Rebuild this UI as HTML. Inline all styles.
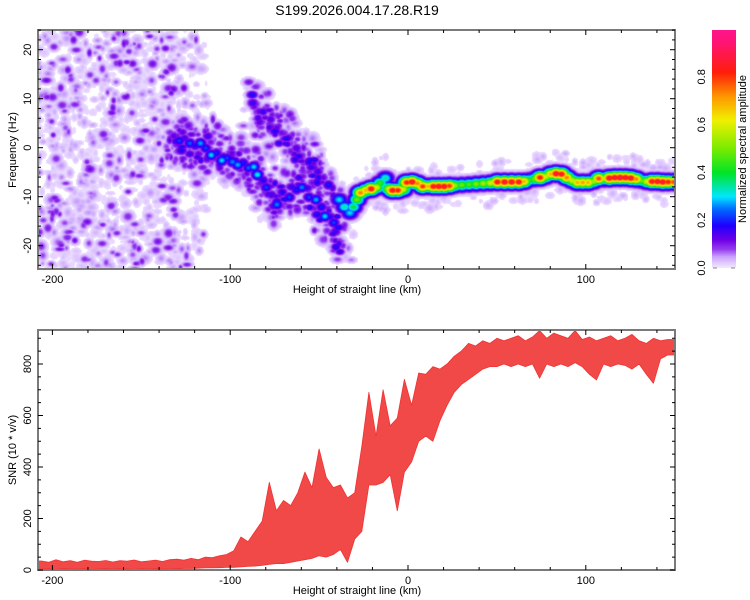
<!DOCTYPE html>
<html><head><meta charset="utf-8">
<style>
html,body{margin:0;padding:0;background:#fff;}
#wrap{position:relative;width:750px;height:600px;overflow:hidden;font-family:"Liberation Sans",sans-serif;}
canvas,svg{position:absolute;}
</style></head>
<body>
<div id="wrap">
<canvas id="heat" width="637" height="239" style="left:38px;top:30px"></canvas>
<canvas id="cbar" width="24" height="238" style="left:712px;top:30px"></canvas>
<svg id="svg" width="750" height="600" style="left:0;top:0"></svg>
</div>
<script>
// ---------- data ----------
const ridgeKm  = [-132,-129,-126,-123,-120,-117,-114,-111,-108,-105,-102,-99,-96,-93,-90,-87,-85,-82,-80,-77,-74,-71,-67,-63,-60,-56,-52,-49,-47,-44,-42,-41,-39,
 -86,-84,-81,-78,-74,-70,-67,-63,-60,-56,-53,-51,-48,-45];
const ridgeHz  = [2.5,1.5,2,1,0.5,1,0,-1.4,-1,-2.5,-2,-2.8,-3.4,-3,-4,-3.8,-5.4,-6.5,-8,-9.5,-11.5,-9,-10,-8.5,-8,-10,-10.5,-12,-13.9,-14,-15.2,-17,-19,
 9,7.5,6.3,5,4.2,3,2.2,0,-1.5,-2.8,-4,-4.8,-6,-7.5];
const ridgeAmp = [0.14,0.22,0.16,0.24,0.18,0.28,0.22,0.3,0.2,0.3,0.22,0.26,0.28,0.2,0.24,0.3,0.32,0.18,0.22,0.16,0.26,0.18,0.22,0.2,0.26,0.22,0.28,0.2,0.3,0.17,0.22,0.16,0.1,
 0.11,0.13,0.11,0.11,0.13,0.11,0.13,0.15,0.11,0.18,0.13,0.16,0.13,0.2];
const bandKm  = [-39,-36,-33,-31,-29,-27,-24,-21,-18,-16,-13,-11,-9,-6,-3,-1,2,5,8,11,14,17,20,23,26,30,34,38,42,46,50,54,58,62,65,68,71,74,77,80,83,86,89,92,95,98,101,104,107,110,113,116,119,122,125,128,131,134,137,140,143,146,149];
const bandHz  = [-10.5,-12,-13.2,-12,-10.5,-9.1,-8.6,-8.3,-8,-7.1,-6.1,-8.3,-8.6,-8.6,-8.4,-7,-6.9,-7.2,-7.8,-7.8,-7.8,-7.8,-7.8,-7.7,-7.6,-7.5,-7.4,-7.3,-7.2,-7.1,-6.9,-6.9,-6.9,-6.9,-6.8,-6.5,-6.3,-6,-5.8,-5.3,-5.2,-5.3,-6,-6.6,-7,-7,-7,-6.8,-6.2,-6.4,-6.1,-6,-6,-6,-6.1,-6.3,-6.6,-6.8,-6.8,-6.8,-6.9,-6.9,-6.9];
const bandAmp = [0.3,0.35,0.3,0.4,0.5,0.75,0.7,0.88,0.6,0.45,0.35,0.6,0.88,0.85,0.6,0.85,0.9,0.75,0.82,0.7,0.88,0.9,0.9,0.82,0.55,0.5,0.48,0.52,0.55,0.6,0.88,0.9,0.9,0.88,0.7,0.45,0.5,0.85,0.6,0.7,0.9,0.88,0.75,0.6,0.7,0.72,0.7,0.55,0.8,0.45,0.9,0.9,0.92,0.9,0.9,0.75,0.5,0.6,0.88,0.9,0.9,0.85,0.8];

const snrKm = [];
for (let k=-206;k<=146;k+=4) snrKm.push(k);
const snrHigh = [35,30,40,32,36,30,38,34,33,37,31,36,34,39,32,35,38,33,40,
 42,38,45,40,50,48,55,60,75,128,110,150,190,340,230,270,250,300,380,320,470,360,320,330,280,
 300,480,690,520,700,560,590,740,640,765,760,790,780,800,830,850,880,870,890,880,900,890,900,910,890,905,930,900,920,910,900,930,895,905,890,900,910,890,900,915,890,880,900,890,895];
const snrLow = [3,5,2,6,4,3,5,2,4,6,3,5,4,2,5,3,6,4,3,
 5,6,6,7,8,8,9,10,10,12,14,15,18,22,25,25,30,35,40,45,55,50,60,80,30,
 120,150,330,330,340,370,230,380,420,500,520,500,580,640,690,720,740,760,780,790,790,800,790,800,790,800,745,800,790,800,790,805,790,760,738,800,790,800,795,780,800,760,725,820,835];
const xTicks = [-200,-100,0,100];
const fTicks = [-20,-10,0,10,20];
const sTicks = [0,200,400,600,800];
const cTicks = [0,0.2,0.4,0.6,0.8];

// ---------- scales ----------
function xS(km){return 408+1.778*km;}
function yF(hz){return 147.7-4.9*hz;}
function yS(v){return 570-0.2575*v;}
function yC(v){return 268-239*v;}

// ---------- colormap ----------
const stops=[[0,245,235,255],[0.02,228,208,255],[0.05,200,160,252],[0.08,150,60,238],[0.12,110,0,230],[0.18,30,0,255],[0.25,0,110,255],[0.3,0,230,255],[0.4,0,228,40],[0.5,120,235,0],[0.62,240,240,0],[0.72,255,150,0],[0.82,255,30,10],[0.95,255,20,120],[1.0,255,20,140]];
function cmap(v){
  if(v>=1) v=1;
  for(let i=1;i<stops.length;i++){
    if(v<=stops[i][0]){const a=stops[i-1],b=stops[i];const t=(v-a[0])/(b[0]-a[0]);
      return [a[1]+(b[1]-a[1])*t,a[2]+(b[2]-a[2])*t,a[3]+(b[3]-a[3])*t];}
  }
  return [255,20,140];
}
// ---------- heatmap ----------
const W=637,H=239;
const grid=new Float32Array(W*H);
function blob(cx,cy,sx,sy,amp){
  const x0=Math.max(0,Math.floor(cx-3*sx)),x1=Math.min(W-1,Math.ceil(cx+3*sx));
  const y0=Math.max(0,Math.floor(cy-3*sy)),y1=Math.min(H-1,Math.ceil(cy+3*sy));
  for(let y=y0;y<=y1;y++)for(let x=x0;x<=x1;x++){
    const dx=(x-cx)/sx,dy=(y-cy)/sy;const v=amp*Math.exp(-0.5*(dx*dx+dy*dy));
    const i=y*W+x; if(v>grid[i])grid[i]=v;}
}
// seeded texture generator (background speckle)
let seed=12345;
function rnd(){seed|=0;seed=seed+0x6D2B79F5|0;let t=Math.imul(seed^seed>>>15,1|seed);t=t+Math.imul(t^t>>>7,61|t)^t;return((t^t>>>14)>>>0)/4294967296;}
for(let n=0;n<1300;n++){
  const km=(rnd()<0.85)?-210+rnd()*78:-135+rnd()*22;
  const hz=-25+rnd()*50;
  const r=rnd();const amp=r<0.6?0.012+rnd()*0.02:(r<0.86?0.035+rnd()*0.03:0.07+rnd()*0.05);
  blob(xS(km)-38,yF(hz)-30,1.8+rnd()*2.5,1.8+rnd()*2,amp);
}
for(let i=0;i<ridgeKm.length;i++){
  for(let j=0;j<12;j++){blob(xS(ridgeKm[i]+(rnd()-0.5)*14)-38,yF(ridgeHz[i]+(rnd()-0.5)*10)-30,2+rnd()*2.5,2+rnd()*2,0.02+rnd()*0.1);}
  for(let j=0;j<3;j++){blob(xS(ridgeKm[i]+(rnd()-0.5)*6)-38,yF(ridgeHz[i]+(rnd()-0.5)*5)-30,2.5+rnd()*2,2+rnd()*1.5,0.1+rnd()*0.1);}
}
for(let i=0;i<bandKm.length;i++){
  for(let j=0;j<5;j++){blob(xS(bandKm[i]+(rnd()-0.5)*6)-38,yF(bandHz[i]+(rnd()-0.5)*9)-30,2+rnd()*2,2+rnd()*1.5,0.015+rnd()*0.03);}
}
for(let i=0;i<ridgeKm.length;i++) blob(xS(ridgeKm[i])-38,yF(ridgeHz[i])-30,4,3.5,ridgeAmp[i]);
for(let i=0;i<bandKm.length;i++) blob(xS(bandKm[i])-38,yF(bandHz[i])-30,5.5,4.3,bandAmp[i]);
(function(){
  const ctx=document.getElementById('heat').getContext('2d');
  const im=ctx.createImageData(W,H);
  for(let i=0;i<W*H;i++){
    const v=grid[i];let c=[255,255,255];
    if(v>0.01) c=cmap(v);
    im.data[i*4]=c[0];im.data[i*4+1]=c[1];im.data[i*4+2]=c[2];im.data[i*4+3]=255;}
  ctx.putImageData(im,0,0);
  const cb=document.getElementById('cbar').getContext('2d');
  for(let y=0;y<238;y++){const v=(238-y)/239;const c=cmap(v);cb.fillStyle='rgb('+c.map(Math.round).join(',')+')';cb.fillRect(0,y,24,1);}
})();
// ---------- svg ----------
const NS='http://www.w3.org/2000/svg';
const svg=document.getElementById('svg');
function el(tag,attrs,parent){const e=document.createElementNS(NS,tag);for(const k in attrs)e.setAttribute(k,attrs[k]);(parent||svg).appendChild(e);return e;}
function txt(s,x,y,size,rot,anchor){const t=el('text',{x:0,y:0,'font-size':size,'text-anchor':anchor||'middle','dominant-baseline':'central',fill:'#000',transform:'translate('+x+','+y+')'+(rot?' rotate(-90)':'')});t.textContent=s;return t;}

// SNR series
const snrG=el('g',{});


const last=snrKm.length-1;
let up='M38,'+yS(snrHigh[0]).toFixed(1),dn='';
for(let i=0;i<snrKm.length;i++){up+='L'+xS(snrKm[i]).toFixed(1)+','+yS(snrHigh[i]).toFixed(1);}
up+='L675,'+yS(snrHigh[last]).toFixed(1)+'L675,'+yS(snrLow[last]).toFixed(1);
for(let i=last;i>=0;i--){dn+='L'+xS(snrKm[i]).toFixed(1)+','+yS(snrLow[i]).toFixed(1);}
dn+='L38,'+yS(snrLow[0]).toFixed(1);
const clip=el('clipPath',{id:'clipB'});el('rect',{x:38,y:330,width:637,height:240},clip);
el('path',{d:up+dn+'Z',fill:'#ef3434','fill-opacity':0.9,stroke:'#ef3434','stroke-width':0.8,'stroke-linejoin':'round','clip-path':'url(#clipB)'},snrG);

function frame(x0,y0,w,h,name){
  const r=el('rect',{x:x0,y:y0,width:w,height:h,fill:'none',stroke:'#7a7a7a','stroke-width':2});
  
  
}
frame(38,30,637,239,'spectrogram-frame');
frame(38,330,637,240,'snr-frame');

// x ticks
[[30,269],[330,570]].forEach(function(p,idx){
  for(let k=-200;k<=140;k+=20){const x=xS(k);const L=(k%100===0)?5:3;
    el('line',{x1:x,y1:p[0],x2:x,y2:p[0]+L,stroke:'#000','stroke-width':1});
    el('line',{x1:x,y1:p[1],x2:x,y2:p[1]-L,stroke:'#000','stroke-width':1});}
  xTicks.forEach(function(k){const t=txt(String(k),xS(k),p[1]+11,11);
    
    });
  const ti=txt('Height of straight line (km)',357,p[1]+21,11);
  
  
});
// freq ticks
for(let f=-24;f<=24;f+=2){const y=yF(f);if(y<30||y>269)continue;const L=(f%10===0)?5:3;
  el('line',{x1:38,y1:y,x2:38+L,y2:y,stroke:'#000','stroke-width':1});
  el('line',{x1:675,y1:y,x2:675-L,y2:y,stroke:'#000','stroke-width':1});}
fTicks.forEach(function(f){const t=txt(String(f),28,yF(f),11,true);
  
  });
const fy=txt('Frequency (Hz)',13,150,11,true);


// snr ticks
for(let v=0;v<=900;v+=50){const y=yS(v);const L=(v%200===0)?5:3;
  el('line',{x1:38,y1:y,x2:38+L,y2:y,stroke:'#000','stroke-width':1});
  el('line',{x1:675,y1:y,x2:675-L,y2:y,stroke:'#000','stroke-width':1});}
sTicks.forEach(function(v){const t=txt(String(v),28,yS(v),11,true);
  
  });
const sy=txt('SNR (10 * v/v)',13,450,11,true);


// colorbar
cTicks.forEach(function(v){const t=txt(v.toFixed(1),702,yC(v),11,true);
  
  });
el('line',{x1:713,y1:268,x2:717,y2:268,stroke:'#888'});el('line',{x1:731,y1:268,x2:735,y2:268,stroke:'#888'});
const ct=txt('Normalized spectral amplitude',743,149,11,true);


// title
const tt=txt('S199.2026.004.17.28.R19',357,10,14);


</script>
</body></html>
